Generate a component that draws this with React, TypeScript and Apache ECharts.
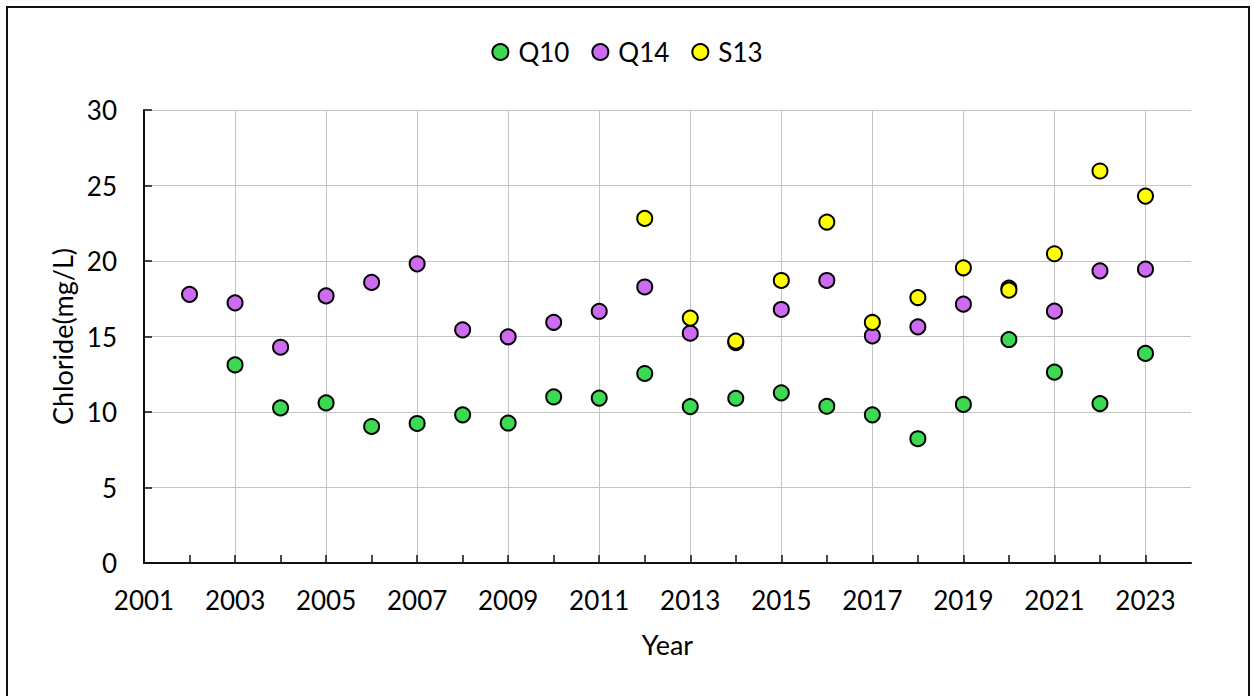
import React, { useEffect, useRef } from "react";
import * as echarts from "echarts";

const years = [2002, 2003, 2004, 2005, 2006, 2007, 2008, 2009, 2010, 2011, 2012, 2013, 2014, 2015, 2016, 2017, 2018, 2019, 2020, 2021, 2022, 2023];
const q10: (number | null)[] = [null, 13.12, 10.27, 10.6, 9.04, 9.24, 9.81, 9.27, 11.0, 10.92, 12.55, 10.36, 10.91, 11.27, 10.38, 9.81, 8.23, 10.5, 14.8, 12.64, 10.56, 13.88];
const q14: (number | null)[] = [17.79, 17.23, 14.29, 17.69, 18.58, 19.81, 15.44, 14.98, 15.94, 16.67, 18.28, 15.22, 14.6, 16.79, 18.71, 15.04, 15.64, 17.14, 18.2, 16.68, 19.35, 19.46];
const s13: (number | null)[] = [null, null, null, null, null, null, null, null, null, null, 22.82, 16.22, 14.69, 18.71, 22.58, 15.93, 17.58, 19.55, 18.07, 20.48, 25.96, 24.3];

const seriesNames = ["Q10", "Q14", "S13"];
const seriesColors = ["#3cd952", "#cd6cf2", "#ffff00"];
const seriesValues = [q10, q14, s13];

const FONT = "Lato, 'Open Sans', sans-serif";

export default function App() {
  const ref = useRef<HTMLDivElement>(null);
  useEffect(() => {
    if (!ref.current) return;
    const chart = echarts.init(ref.current, undefined, { renderer: "svg" });
    chart.setOption({
      animation: false,
      backgroundColor: "#ffffff",
      textStyle: { fontFamily: FONT, color: "#000" },
      graphic: [
        {
          type: "rect",
          shape: { x: 7, y: 7, width: 1242, height: 700 },
          style: { fill: "none", stroke: "#111", lineWidth: 2 },
          silent: true,
          z: 100,
        },
      ],
      legend: {
        top: 34,
        left: "center",
        icon: "circle",
        itemWidth: 16,
        itemHeight: 16,
        itemGap: 22,
        textStyle: { fontSize: 26, color: "#000", fontFamily: FONT, padding: [0, 0, 0, 5] },
        data: seriesNames,
      },
      grid: { left: 144, right: 63, top: 110, bottom: 133, containLabel: false },
      xAxis: {
        type: "value",
        min: 2001,
        max: 2024,
        interval: 1,
        name: "Year",
        nameLocation: "middle",
        nameGap: 68,
        nameTextStyle: { fontSize: 27, color: "#000", fontFamily: FONT },
        axisLine: { show: true, lineStyle: { color: "#111", width: 2 } },
        axisTick: { show: true, inside: true, length: 8, lineStyle: { color: "#111", width: 1.5 } },
        axisLabel: {
          fontSize: 26,
          color: "#000",
          margin: 24,
          fontFamily: FONT,
          showMaxLabel: false,
          formatter: (v: number) => (Math.round(v) % 2 === 1 ? String(Math.round(v)) : ""),
        },
        splitLine: { show: true, lineStyle: { color: ["#c4c4c4", "rgba(0,0,0,0)"], width: 1 } },
      },
      yAxis: {
        type: "value",
        min: 0,
        max: 30,
        interval: 5,
        name: "Chloride(mg/L)",
        nameLocation: "middle",
        nameGap: 68,
        nameTextStyle: { fontSize: 27, color: "#000", fontFamily: FONT },
        axisLine: { show: true, lineStyle: { color: "#111", width: 2 } },
        axisTick: { show: true, inside: true, length: 8, lineStyle: { color: "#111", width: 1.5 } },
        axisLabel: { fontSize: 26, color: "#000", margin: 27, fontFamily: FONT },
        splitLine: { show: true, lineStyle: { color: "#c4c4c4", width: 1 } },
      },
      series: seriesNames.map((name, i) => ({
        name,
        type: "scatter",
        symbol: "circle",
        symbolSize: 15,
        itemStyle: { color: seriesColors[i], borderColor: "#000", borderWidth: 2, opacity: 1 },
        emphasis: { disabled: true },
        data: years
          .map((y, k) => [y, seriesValues[i][k]])
          .filter((p) => p[1] !== null),
      })),
    });
    return () => chart.dispose();
  }, []);
  return (
    <div
      ref={ref}
      style={{ position: "fixed", left: 0, top: 0, width: 1254, height: 696, background: "#fff" }}
    />
  );
}
